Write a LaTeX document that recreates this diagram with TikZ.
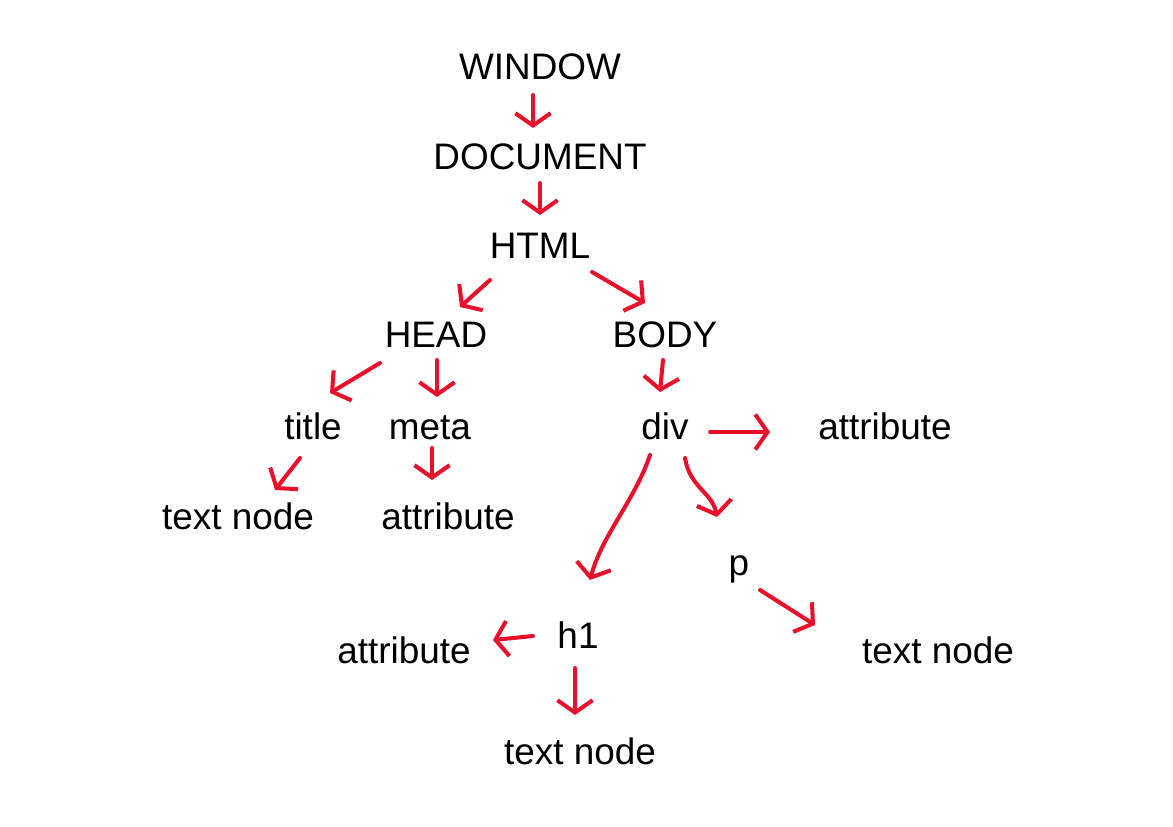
\documentclass[tikz,border=0pt]{standalone}
\usepackage{fontspec}
\setmainfont{Liberation Sans}
\usepackage{tikz}
\usepackage{xcolor}
\usetikzlibrary{arrows.meta,calc}
\definecolor{pen}{HTML}{E8102A}
\tikzset{
Mot/.style={
 font=\fontsize{21}{25}\selectfont,
 inner sep=2pt,
 text height=0.72em,
 text depth=0.2em
 },
Trait/.style={
 draw=pen,
 line width=2.3pt,
 line cap=round,
 line join=round,
 -{Straight Barb[length=7pt,width=20pt,line width=2.3pt]}
 }
}
\begin{document}
\begin{tikzpicture}[x=0.02cm,y=-0.02cm]
\useasboundingbox (0,-8) rectangle (1173,818);
% noeuds
\node[Mot] (window) at (540,67) {WINDOW};
\node[Mot] (document) at (540,157) {DOCUMENT};
\node[Mot] (html) at (540,246) {HTML};
\node[Mot] (head) at (436,335) {HEAD};
\node[Mot] (body) at (665,335) {BODY};
\node[Mot] (title) at (313,427) {title};
\node[Mot] (meta) at (430,427) {meta};
\node[Mot] (div) at (665,427) {div};
\node[Mot] (attrdiv) at (885,427) {attribute};
\node[Mot] (textitle) at (238,517) {text node};
\node[Mot] (attrmeta) at (448,517) {attribute};
\node[Mot] (p) at (739,563) {p};
\node[Mot] (h1) at (578,636) {h1};
\node[Mot] (attrh1) at (404,651) {attribute};
\node[Mot] (textp) at (938,651) {text node};
\node[Mot] (texth1) at (580,752) {text node};
% fleches
\draw[Trait] ($(window)+(-7,20)$) -- ($(document)+(-7,-37)$);
\draw[Trait] ($(document)+(0,18)$) -- ($(html)+(0,-39)$);
\draw[Trait] ($(html)+(-50,26)$) -- ($(head)+(24,-36)$);
\draw[Trait] ($(html)+(52,18)$) -- ($(body)+(-20,-40)$);
\draw[Trait] ($(head)+(-56,20)$) -- ($(title)+(17,-42)$);
\draw[Trait] ($(head)+(1,17)$) -- ($(meta)+(7,-38)$);
\draw[Trait] ($(body)+(-2,17)$) -- ($(div)+(-5,-43)$);
\draw[Trait] ($(div)+(45,-3)$) -- ($(attrdiv)+(-115,-3)$);
\draw[Trait] ($(title)+(-13,23)$) -- ($(textitle)+(37,-35)$);
\draw[Trait] ($(meta)+(2,13)$) -- ($(attrmeta)+(-16,-45)$);
\draw[Trait] ($(div)+(-15,20)$) .. controls +(-15,45) and +(12,-45) .. ($(h1)+(12,-64)$);
\draw[Trait] ($(div)+(20,23)$) .. controls +(5,30) and +(-5,-25) .. ($(p)+(-22,-54)$);
\draw[Trait] ($(p)+(21,19)$) -- ($(textp)+(-123,-34)$);
\draw[Trait] ($(h1)+(-45,-8)$) -- ($(attrh1)+(89,-19)$);
\draw[Trait] ($(h1)+(-3,24)$) -- ($(texth1)+(-5,-45)$);
\end{tikzpicture}
\end{document}
